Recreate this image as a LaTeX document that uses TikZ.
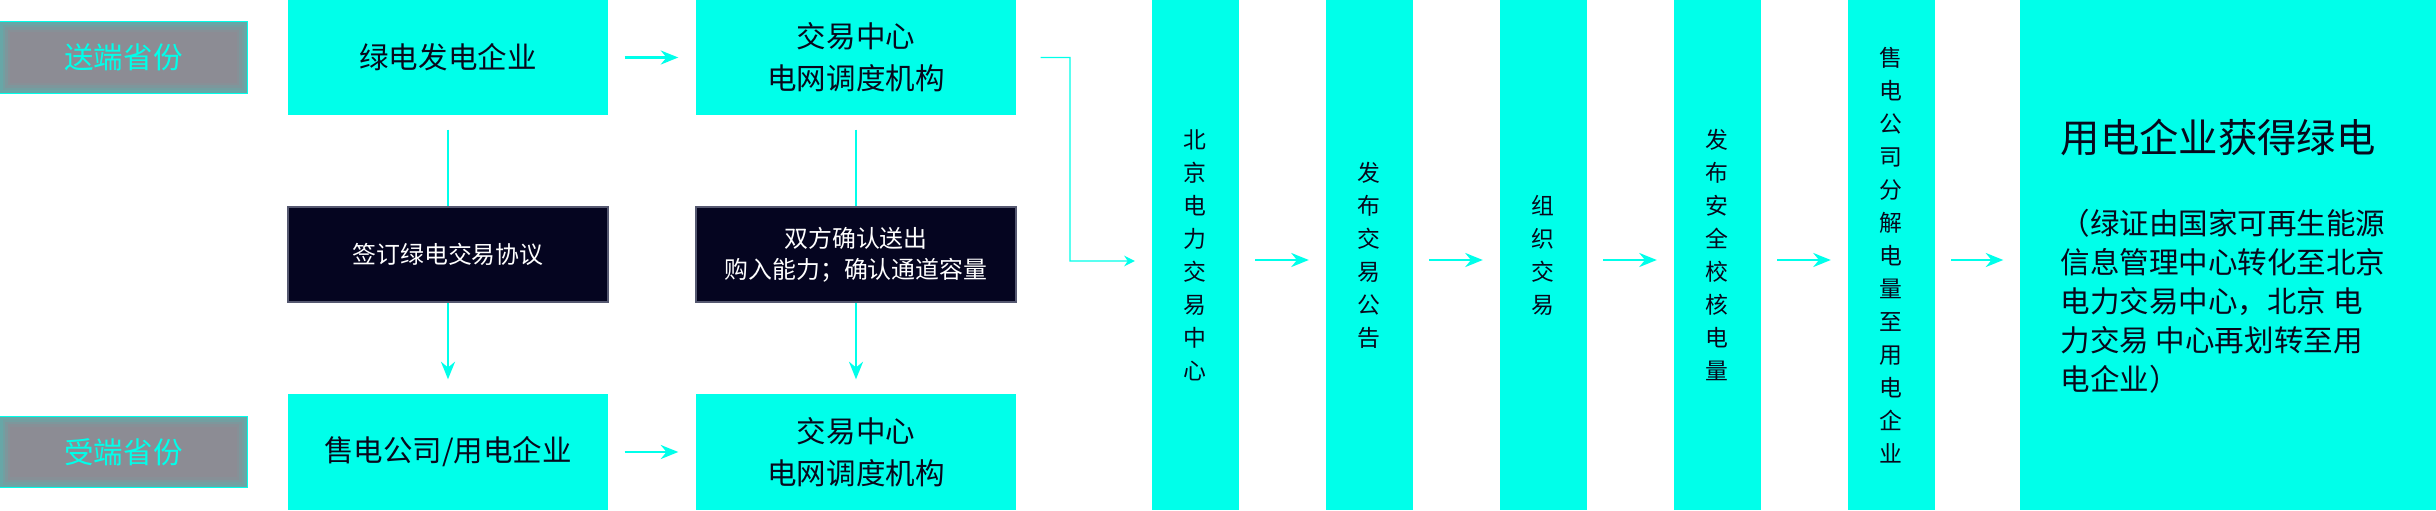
\documentclass[tikz,border=0pt]{standalone}
\usepackage{fontspec}
\setmainfont{Noto Sans CJK SC}
\usetikzlibrary{arrows.meta,positioning,calc}
\definecolor{aqua}{RGB}{0,255,234}
\definecolor{ink}{RGB}{8,8,28}
\definecolor{navy}{RGB}{5,5,32}
\definecolor{edge}{RGB}{85,88,112}
\definecolor{provgray}{RGB}{140,140,148}
\definecolor{glow}{RGB}{96,172,170}

\begin{document}
\begin{tikzpicture}[
  box/.style={fill=aqua, text=ink, minimum width=3.2cm, minimum height=1.15cm, align=center, font=\fontsize{8.4}{12}\selectfont},
  darkbox/.style={fill=navy, draw=edge, line width=0.5pt, text=white, minimum width=3.2cm, minimum height=0.95cm, align=center, font=\fontsize{6.8}{8.8}\selectfont},
  prov/.style={draw=aqua, fill=provgray, text=aqua, minimum width=2.47cm, minimum height=0.71cm, font=\fontsize{8.4}{10}\selectfont},
  col/.style={fill=aqua, text=ink, minimum width=0.87cm, minimum height=5.1cm, inner sep=0pt, align=center, font=\fontsize{6.5}{9.4}\selectfont},
  arr/.style={aqua, line width=0.6pt, -{Stealth[length=5pt,width=4pt]}},
  link/.style={aqua, line width=0.5pt}
]
\useasboundingbox (0,0) rectangle (24.36,5.10);

\node[prov] (send) at (1.235,4.525) {送端省份};
\node[prov] (recv) at (1.235,0.58) {受端省份};
\foreach \n in {send,recv}
  \foreach \d/\m in {0.02/85,0.045/60,0.07/35,0.095/12}
    \draw[glow!\m!provgray, line width=0.025cm] ($(\n.south west)+(\d,\d)$) rectangle ($(\n.north east)-(\d,\d)$);

\node[box] (gen) at (4.48,4.525) {绿电发电企业};
\node[box] (tradetop) at (8.56,4.525) {交易中心\\电网调度机构};
\node[darkbox] (sign) at (4.48,2.555) {签订绿电交易协议};
\node[darkbox] (confirm) at (8.56,2.555) {双方确认送出\\购入能力；确认通道容量};
\node[box, minimum height=1.16cm] (sellco) at (4.48,0.58) {售电公司/用电企业};
\node[box, minimum height=1.16cm] (tradebot) at (8.56,0.58) {交易中心\\电网调度机构};

\node[col] (c1) at (11.95,2.55) {北\\京\\电\\力\\交\\易\\中\\心};
\node[col] (c2) at (13.69,2.55) {发\\布\\交\\易\\公\\告};
\node[col] (c3) at (15.43,2.55) {组\\织\\交\\易};
\node[col] (c4) at (17.17,2.55) {发\\布\\安\\全\\校\\核\\电\\量};
\node[col] (c5) at (18.91,2.55) {售\\电\\公\\司\\分\\解\\电\\量\\至\\用\\电\\企\\业};
\node[fill=aqua, minimum width=4.16cm, minimum height=5.1cm] (final) at (22.28,2.55) {};
\node[anchor=west, text=ink, inner sep=0pt, font=\fontsize{11.2}{14}\selectfont] (gain) at (20.60,3.73) {用电企业获得绿电};
\node[anchor=west, text=ink, inner sep=0pt, align=left, font=\fontsize{8.4}{11.1}\selectfont] (cert) at (20.60,2.09) {（绿证由国家可再生能源\\信息管理中心转化至北京\\电力交易中心，北京 电\\力交易 中心再划转至用\\电企业）};

\draw[arr, shorten <=0.16cm, shorten >=0.17cm] (gen) -- (tradetop);
\draw[arr, shorten <=0.16cm, shorten >=0.17cm] (sellco) -- (tradebot);
\draw[link, shorten <=0.14cm] (gen) -- (sign);
\draw[link, shorten <=0.14cm] (tradetop) -- (confirm);
\draw[arr, shorten >=0.14cm] (sign) -- (sellco);
\draw[arr, shorten >=0.14cm] (confirm) -- (tradebot);

\coordinate (bend) at (10.70,2.49);
\draw[aqua, line width=0.4pt, -{Stealth[length=3pt,width=3pt]}] ([xshift=0.24cm]tradetop.east) -| (bend) -- ([xshift=-0.16cm,yshift=-0.06cm]c1.west);
\foreach \a/\b in {c1/c2,c2/c3,c3/c4,c4/c5,c5/final}
  \draw[arr, shorten <=0.16cm, shorten >=0.16cm] ([yshift=-0.05cm]\a.east) -- ([yshift=-0.05cm]\b.west);
\end{tikzpicture}
\end{document}
